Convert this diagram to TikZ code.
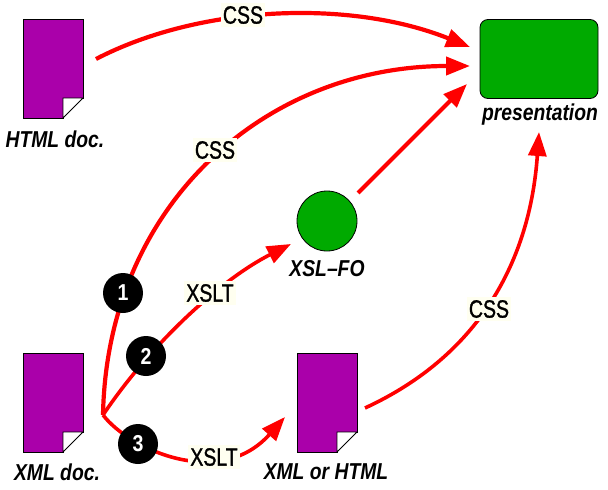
\documentclass[tikz,border=0pt]{standalone}
\usepackage{fontspec}
\usetikzlibrary{arrows.meta}
\newfontfamily\lblfont[FakeStretch=0.78,FakeBold=1.2]{Liberation Sans}
\newfontfamily\numfont[FakeStretch=0.85]{Liberation Sans}
\newfontfamily\capfont[FakeStretch=0.84]{Liberation Sans}
\definecolor{docpurple}{HTML}{AA00AA}
\definecolor{outgreen}{HTML}{00AA00}
\definecolor{lblbg}{HTML}{FFFFF0}
\tikzset{
  docnode/.style={minimum width=60pt,minimum height=99pt,inner sep=0pt,outer sep=0pt},
  conn/.style={draw=red,line width=3.6pt,-{Triangle[length=24pt,width=18pt]}},
  thickconn/.style={conn,line width=4.2pt},
  edgelabel/.style={fill=lblbg,inner xsep=2pt,inner ysep=3pt,font=\lblfont\fontsize{25}{25}\selectfont,text=black},
  caption/.style={inner sep=0pt,font=\capfont\bfseries\itshape\fontsize{23}{23}\selectfont},
  stepdot/.style={circle,fill=black,minimum size=40pt,inner sep=0pt,text=white,font=\numfont\bfseries\fontsize{23}{23}\selectfont},
}
\newcommand{\docpage}[1]{%
  \fill[docpurple,draw=black,line width=0.8pt] (#1.north west) -- (#1.north east) -- ([yshift=20pt]#1.south east) -- ([xshift=-20pt,yshift=20pt]#1.south east) -- ([xshift=-20pt]#1.south east) -- (#1.south west) -- cycle;
  \filldraw[fill=white,draw=black,line width=0.8pt] ([xshift=-20pt]#1.south east) -- ([xshift=-20pt,yshift=20pt]#1.south east) -- ([yshift=20pt]#1.south east) -- cycle;
}
\begin{document}
\begin{tikzpicture}[x=1pt,y=-1pt]
\useasboundingbox (0,0) rectangle (608,490);
% anchors
\coordinate (root) at (103,415);
\coordinate (htmlout) at (96,59);
\coordinate (tipa) at (470,47);
\coordinate (tipb) at (470,66);
\coordinate (tipc) at (467,84);
\coordinate (foout) at (358,193);
\coordinate (fotip) at (291,244);
\coordinate (xtip) at (285,417);
\coordinate (xout) at (365,408);
\coordinate (ptip) at (539,132);
% shapes
\node[docnode] (html) at (53,68.5) {};
\node[docnode] (xml) at (53,402.5) {};
\node[docnode] (xh) at (327,402.5) {};
\docpage{html}\docpage{xml}\docpage{xh}
\node[draw=black,line width=0.8pt,fill=outgreen,rounded corners=8pt,minimum width=118pt,minimum height=79pt,inner sep=0pt] (pres) at (539,59) {};
\node[circle,draw=black,line width=0.8pt,fill=outgreen,minimum size=60pt,inner sep=0pt] (fo) at (327,221) {};
% connectors
\draw[thickconn] (htmlout) .. controls (200,5) and (350,-1) .. (tipa);
\draw[thickconn] (root) .. controls (107,205) and (265,66) .. (tipb);
\draw[conn] (root) .. controls (150,345) and (220,280) .. (fotip);
\draw[conn] (root) .. controls (130,450) and (220,490) .. (xtip);
\draw[thickconn] (foout) -- (tipc);
\draw[conn] (xout) .. controls (480,355) and (530,260) .. (ptip);
% labels
\node[edgelabel] (l1) at (243,15) {CSS};
\node[edgelabel] (l2) at (215,150) {CSS};
\node[edgelabel] (l3) at (210,293) {XSLT};
\node[edgelabel] (l4) at (214,457) {XSLT};
\node[edgelabel] (l5) at (489,309) {CSS};
\node[stepdot] (s1) at (123,293) {1};
\node[stepdot] (s2) at (146,356) {2};
\node[stepdot] (s3) at (138,444) {3};
\node[caption] (c1) at (55,139) {HTML doc.};
\node[caption] (c2) at (57,472) {XML doc.};
\node[caption] (c3) at (326,472) {XML or HTML};
\node[caption] (c4) at (327,269) {XSL–FO};
\node[caption] (c5) at (540,115) {presentation};
\end{tikzpicture}
\end{document}
